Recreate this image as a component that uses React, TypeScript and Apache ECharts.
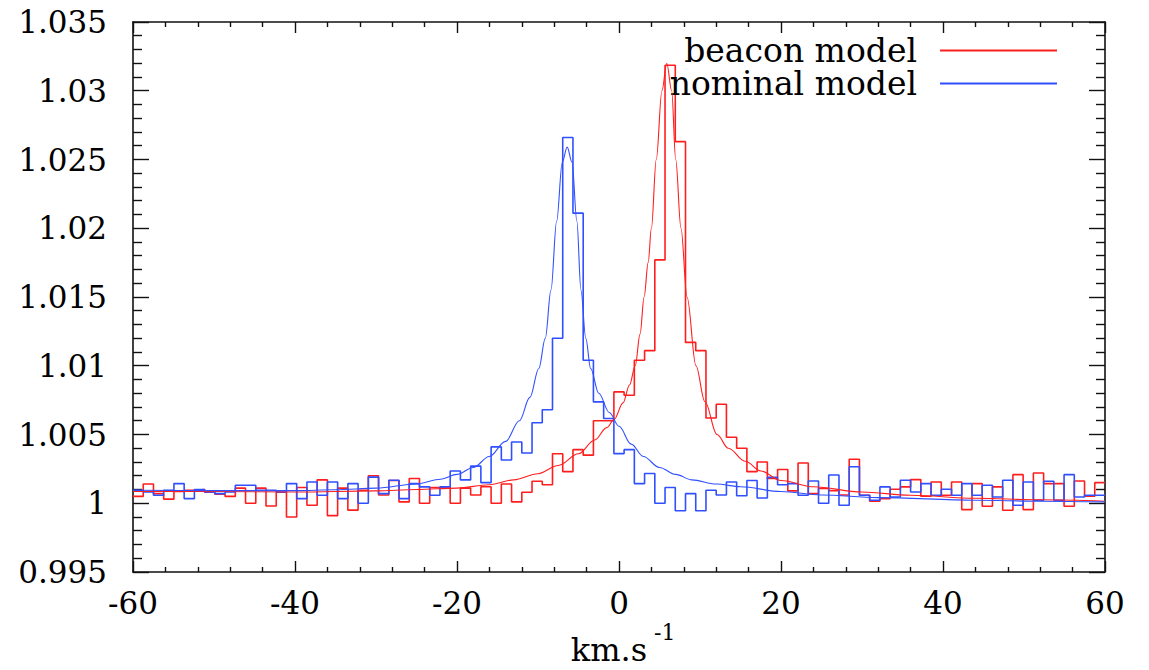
import React, { useEffect, useRef } from "react";
import * as echarts from "echarts";

// ---- data ----
const X_MIN = -60;
const X_MAX = 60;
const BIN_COUNT = 95;
const BIN_WIDTH = (X_MAX - X_MIN) / BIN_COUNT;

const beaconHist = [
  1.0005, 1.0014, 1.0007, 1.0003, 1.00085, 1.00095, 1.001, 1.0008, 1.00065, 1.0005,
  1.0011, 1.0, 1.0011, 0.9998, 1.0008, 0.999, 1.00115, 0.99985, 1.0017, 0.9991,
  1.0011, 0.9995, 1.00095, 1.002, 1.0006, 1.00165, 1.0001, 1.0018, 1.0, 1.00115,
  1.0012, 1.0, 1.0011, 1.0006, 1.0012, 1.0, 1.0014, 1.0001, 1.0008, 1.0016,
  1.00135, 1.0036, 1.0023, 1.0039, 1.0035, 1.006, 1.006, 1.0081, 1.00785, 1.0104,
  1.0111, 1.0177, 1.03185, 1.0263, 1.0117, 1.0111, 1.0062, 1.0072, 1.0048, 1.004,
  1.0023, 1.003, 1.0018, 1.00245, 1.0009, 1.00293, 1.0007, 1.00107, 1.00092, 1.0006,
  1.0032, 1.00058, 1.00015, 1.00034, 1.00102, 1.00119, 1.00172, 1.00051, 1.00155, 1.00058,
  1.00155, 0.99954, 1.00143, 0.99978, 1.00119, 0.99949, 1.00208, 0.99954, 1.0022, 1.00143,
  1.00143, 0.99978, 1.00162, 1.00051, 1.0015,
];

const nominalHist = [
  1.00095, 1.00082, 1.00058, 1.00095, 1.00143, 1.00034, 1.001, 1.00082, 1.0007, 1.00082,
  1.00131, 1.00131, 1.00095, 1.00095, 1.00082, 1.00143, 1.00034, 1.00155, 1.00058, 1.00155,
  1.00034, 1.00143, 1.0, 1.0019, 1.0007, 1.00167, 1.00034, 1.00143, 1.00119, 1.00058,
  1.00119, 1.00235, 1.0017, 1.0027, 1.0015, 1.0041, 1.00315, 1.00446, 1.00365, 1.00585,
  1.0068, 1.012, 1.0266, 1.0211, 1.0104, 1.00737, 1.00616, 1.00361, 1.0039, 1.00143,
  1.00216, 1.0, 1.00115, 0.99945, 1.0007, 0.99945, 1.00095, 1.0006, 1.00155, 1.00055,
  1.00165, 1.00038, 1.00188, 1.00135, 1.00143, 1.00058, 1.00162, 1.0, 1.00205, 0.99985,
  1.00265, 1.00058, 1.00022, 1.00119, 1.00046, 1.00167, 1.00082, 1.00143, 1.00058, 1.00102,
  1.00058, 1.00143, 1.00058, 1.00131, 1.00046, 1.00167, 0.99985, 1.00155, 1.00022, 1.0016,
  1.00022, 1.00208, 1.00046, 1.00058, 1.00058,
];

const beaconModelX = [-60, -50, -40, -30, -25, -20, -16, -13, -10, -7.5, -5, -3, -1.5, -0.6, 0.5, 1.3, 2.0, 2.6, 3.1, 3.6, 4.0, 4.6, 5.3, 5.9, 6.5, 7.0, 7.65, 8.4, 9.5, 10.6, 12.1, 13.5, 15.6, 17.5, 20, 24, 30, 36, 44, 52, 60];
const beaconModelY = [1.00085, 1.00085, 1.00082, 1.0009, 1.001, 1.0011, 1.00135, 1.0017, 1.00215, 1.00275, 1.0036, 1.0046, 1.0055, 1.0061, 1.0073, 1.0086, 1.01, 1.0123, 1.015, 1.0175, 1.02, 1.025, 1.03, 1.032, 1.03, 1.025, 1.02, 1.015, 1.01, 1.0074, 1.005, 1.004, 1.00305, 1.00235, 1.00165, 1.0012, 1.00082, 1.00058, 1.00036, 1.00025, 1.00015];

const nominalModelX = [-60, -50, -40, -35, -30, -25, -22, -20, -18, -16, -14, -12.3, -11, -9.9, -9.1, -8.4, -7.7, -7.0, -6.4, -5.8, -5.2, -4.7, -4.1, -3.5, -2.5, -1.2, 0, 1.5, 3, 5, 7, 9, 12, 15, 20, 25, 32, 44, 52, 60];
const nominalModelY = [1.00095, 1.00092, 1.00092, 1.00098, 1.0011, 1.0014, 1.00175, 1.0021, 1.0026, 1.0034, 1.0045, 1.006, 1.0077, 1.0098, 1.012, 1.0155, 1.0205, 1.0248, 1.0259, 1.0248, 1.0205, 1.0155, 1.012, 1.0098, 1.008, 1.0066, 1.0056, 1.0043, 1.0034, 1.0026, 1.0021, 1.0017, 1.0014, 1.0012, 1.00085, 1.0006, 1.00041, 1.00022, 1.00015, 1.0001];

const xTickInterval = 20;
const yMin = 0.995;
const yMax = 1.035;
const yTickInterval = 0.005;

const RED = "#ff1e1e";
const BLUE = "#3050ff";
const FONT = "DejaVu Serif";

function stepData(values: number[]) {
  const pts: number[][] = values.map((v, i) => [X_MIN + i * BIN_WIDTH, v]);
  pts.push([X_MAX, values[values.length - 1]]);
  return pts;
}

function zip(xs: number[], ys: number[]) {
  return xs.map((x, i) => [x, ys[i]]);
}

export default function App() {
  const ref = useRef<HTMLDivElement>(null);

  useEffect(() => {
    if (!ref.current) return;
    const chart = echarts.init(ref.current, null, { renderer: "svg" });

    const axisLine = { show: true, onZero: false, lineStyle: { color: "#111", width: 1.6 } };
    const xTick = { show: true, inside: true, length: 11, lineStyle: { color: "#111", width: 1.4 } };
    const xMinor = { show: true, splitNumber: 5, length: 5, lineStyle: { color: "#111", width: 1.4 } };
    const yTick = { show: true, inside: true, length: 16, lineStyle: { color: "#111", width: 1.4 } };
    const yMinor = { show: true, splitNumber: 5, length: 9, lineStyle: { color: "#111", width: 1.4 } };

    const baseX = {
      type: "value" as const,
      min: X_MIN,
      max: X_MAX,
      interval: xTickInterval,
      axisLine,
      axisTick: xTick,
      minorTick: xMinor,
      splitLine: { show: false },
      minorSplitLine: { show: false },
    };
    const baseY = {
      type: "value" as const,
      min: yMin,
      max: yMax,
      interval: yTickInterval,
      axisLine,
      axisTick: yTick,
      minorTick: yMinor,
      splitLine: { show: false },
      minorSplitLine: { show: false },
    };

    chart.setOption({
      animation: false,
      backgroundColor: "#fff",
      grid: { left: 133, right: 44, top: 22, bottom: 98, containLabel: false },
      xAxis: [
        {
          ...baseX,
          position: "bottom",
          axisLabel: { show: true, fontFamily: FONT, fontSize: 31, color: "#000", margin: 15 },
        },
        { ...baseX, position: "top", axisLabel: { show: false } },
      ],
      yAxis: [
        {
          ...baseY,
          position: "left",
          axisLabel: {
            show: true,
            fontFamily: FONT,
            fontSize: 31,
            color: "#000",
            margin: 26,
            formatter: (v: number) => String(+v.toFixed(3)),
          },
        },
        { ...baseY, position: "right", axisLabel: { show: false } },
      ],
      legend: {
        data: ["beacon model", "nominal model"],
        orient: "vertical",
        right: 92,
        top: 34,
        padding: 0,
        align: "right",
        itemWidth: 117,
        itemHeight: 2,
        itemGap: 0,
        icon: "rect",
        selectedMode: false,
        textStyle: {
          fontFamily: FONT,
          fontSize: 33,
          lineHeight: 32,
          color: "#000",
          padding: [0, 18, 0, 0],
        },
      },
      graphic: [
        {
          type: "text",
          x: 609,
          y: 650,
          style: {
            text: "km.s",
            fontFamily: FONT,
            fontSize: 32,
            fill: "#000",
            align: "center",
            verticalAlign: "middle",
            textAlign: "center",
            textVerticalAlign: "middle",
          },
        },
        {
          type: "text",
          x: 654,
          y: 632,
          style: {
            text: "-1",
            fontFamily: FONT,
            fontSize: 22,
            fill: "#000",
            align: "left",
            verticalAlign: "middle",
            textAlign: "left",
            textVerticalAlign: "middle",
          },
        },
      ],
      series: [
        {
          name: "beacon data",
          type: "line",
          step: "end",
          data: stepData(beaconHist),
          showSymbol: false,
          lineStyle: { color: RED, width: 1.6 },
          itemStyle: { color: RED },
          z: 3,
        },
        {
          name: "nominal data",
          type: "line",
          step: "end",
          data: stepData(nominalHist),
          showSymbol: false,
          lineStyle: { color: BLUE, width: 1.6 },
          itemStyle: { color: BLUE },
          z: 4,
        },
        {
          name: "beacon model",
          type: "line",
          smooth: 0.35,
          smoothMonotone: "x",
          data: zip(beaconModelX, beaconModelY),
          showSymbol: false,
          lineStyle: { color: RED, width: 1.1 },
          itemStyle: { color: RED },
          z: 5,
        },
        {
          name: "nominal model",
          type: "line",
          smooth: 0.35,
          smoothMonotone: "x",
          data: zip(nominalModelX, nominalModelY),
          showSymbol: false,
          lineStyle: { color: BLUE, width: 1.1 },
          itemStyle: { color: BLUE },
          z: 6,
        },
      ],
    });

    return () => chart.dispose();
  }, []);

  return (
    <div
      ref={ref}
      style={{ position: "absolute", left: 0, top: 0, width: 1149, height: 670, background: "#fff" }}
    />
  );
}
